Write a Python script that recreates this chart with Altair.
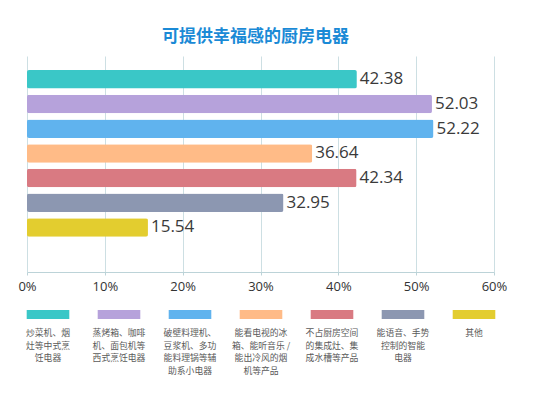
import altair as alt
import pandas as pd

categories = [
    "炒菜机、烟灶等中式烹饪电器",
    "蒸烤箱、咖啡机、面包机等西式烹饪电器",
    "破壁料理机、豆浆机、多功能料理锅等辅助系小电器",
    "能看电视的冰箱、能听音乐 / 能出冷风的烟机等产品",
    "不占厨房空间的集成灶、集成水槽等产品",
    "能语音、手势控制的智能电器",
    "其他",
]
legend_labels = [
    "炒菜机、烟\n灶等中式烹\n饪电器",
    "蒸烤箱、咖啡\n机、面包机等\n西式烹饪电器",
    "破壁料理机、\n豆浆机、多功\n能料理锅等辅\n助系小电器",
    "能看电视的冰\n箱、能听音乐 /\n能出冷风的烟\n机等产品",
    "不占厨房空间\n的集成灶、集\n成水槽等产品",
    "能语音、手势\n控制的智能\n电器",
    "其他",
]
values = [42.38, 52.03, 52.22, 36.64, 42.34, 32.95, 15.54]
colors = ["#3AC7C7", "#B6A2DB", "#60B3EE", "#FFBB87", "#D97A82", "#8C97B1", "#E3CD2F"]
x_ticks = [0, 10, 20, 30, 40, 50, 60]

df = pd.DataFrame({"cat": categories, "value": values, "label": [f"{v:.2f}" for v in values]})
leg = pd.DataFrame({"cat": categories, "text": legend_labels})

font = "Noto Sans CJK SC"
numfont = "Open Sans"


def yband():
    return alt.Y(
        "cat:N",
        scale=alt.Scale(domain=categories, paddingInner=0.25, paddingOuter=1.0, align=0.285),
        axis=None,
    )


xscale = alt.X(
    "value:Q",
    scale=alt.Scale(domain=[0, 60], nice=False),
    axis=alt.Axis(
        values=x_ticks,
        labelExpr="datum.value + '%'",
        title=None,
        grid=True,
        gridColor="#cddfe3",
        domainColor="#bcd3d8",
        tickColor="#bcd3d8",
        tickSize=3,
        labelPadding=5,
        labelFlush=False,
        labelFontSize=13,
        labelColor="#333333",
        labelFont=numfont,
    ),
)
cscale = alt.Color("cat:N", scale=alt.Scale(domain=categories, range=colors), legend=None)

bars = alt.Chart(df).mark_bar(cornerRadius=2).encode(x=xscale, y=yband(), color=cscale)
labels = alt.Chart(df).mark_text(
    align="left", baseline="middle", dx=3, fontSize=17, font=numfont, color="#3a3a3a"
).encode(x="value:Q", y=yband(), text="label:N")

main = alt.layer(bars, labels)

lx = alt.X(
    "cat:N",
    scale=alt.Scale(domain=categories, range=[-14.5, 482.5], paddingInner=0.4, paddingOuter=0.2),
    axis=None,
)
leg_rect = alt.Chart(leg).mark_rect().encode(
    x=lx,
    y=alt.value(254),
    y2=alt.value(263),
    color=alt.Color("cat:N", scale=alt.Scale(domain=categories, range=colors), legend=None),
)
leg_text = alt.Chart(leg).mark_text(
    align="center", baseline="middle", lineBreak="\n", lineHeight=12.7, fontSize=8.8, font=font, color="#5a5a5a"
).encode(x=lx, y=alt.value(277), text="text:N")

legend_layer = alt.layer(leg_rect, leg_text)

chart = (
    alt.layer(main, legend_layer)
    .resolve_scale(x="independent", y="independent", color="independent")
    .properties(
        width=467,
        height=216,
        autosize=alt.AutoSizeParams(type="none"),
        padding={"left": 19, "top": 48, "right": 40, "bottom": 110},
        title=alt.TitleParams(
            "可提供幸福感的厨房电器",
            color="#1a8ad6",
            fontSize=17,
            font=font,
            fontWeight="bold",
            anchor="middle",
            offset=10,
            dx=-5,
        ),
    )
    .configure_view(stroke=None)
)

chart.save("out.html", embed_options={"renderer": "svg", "actions": False})
